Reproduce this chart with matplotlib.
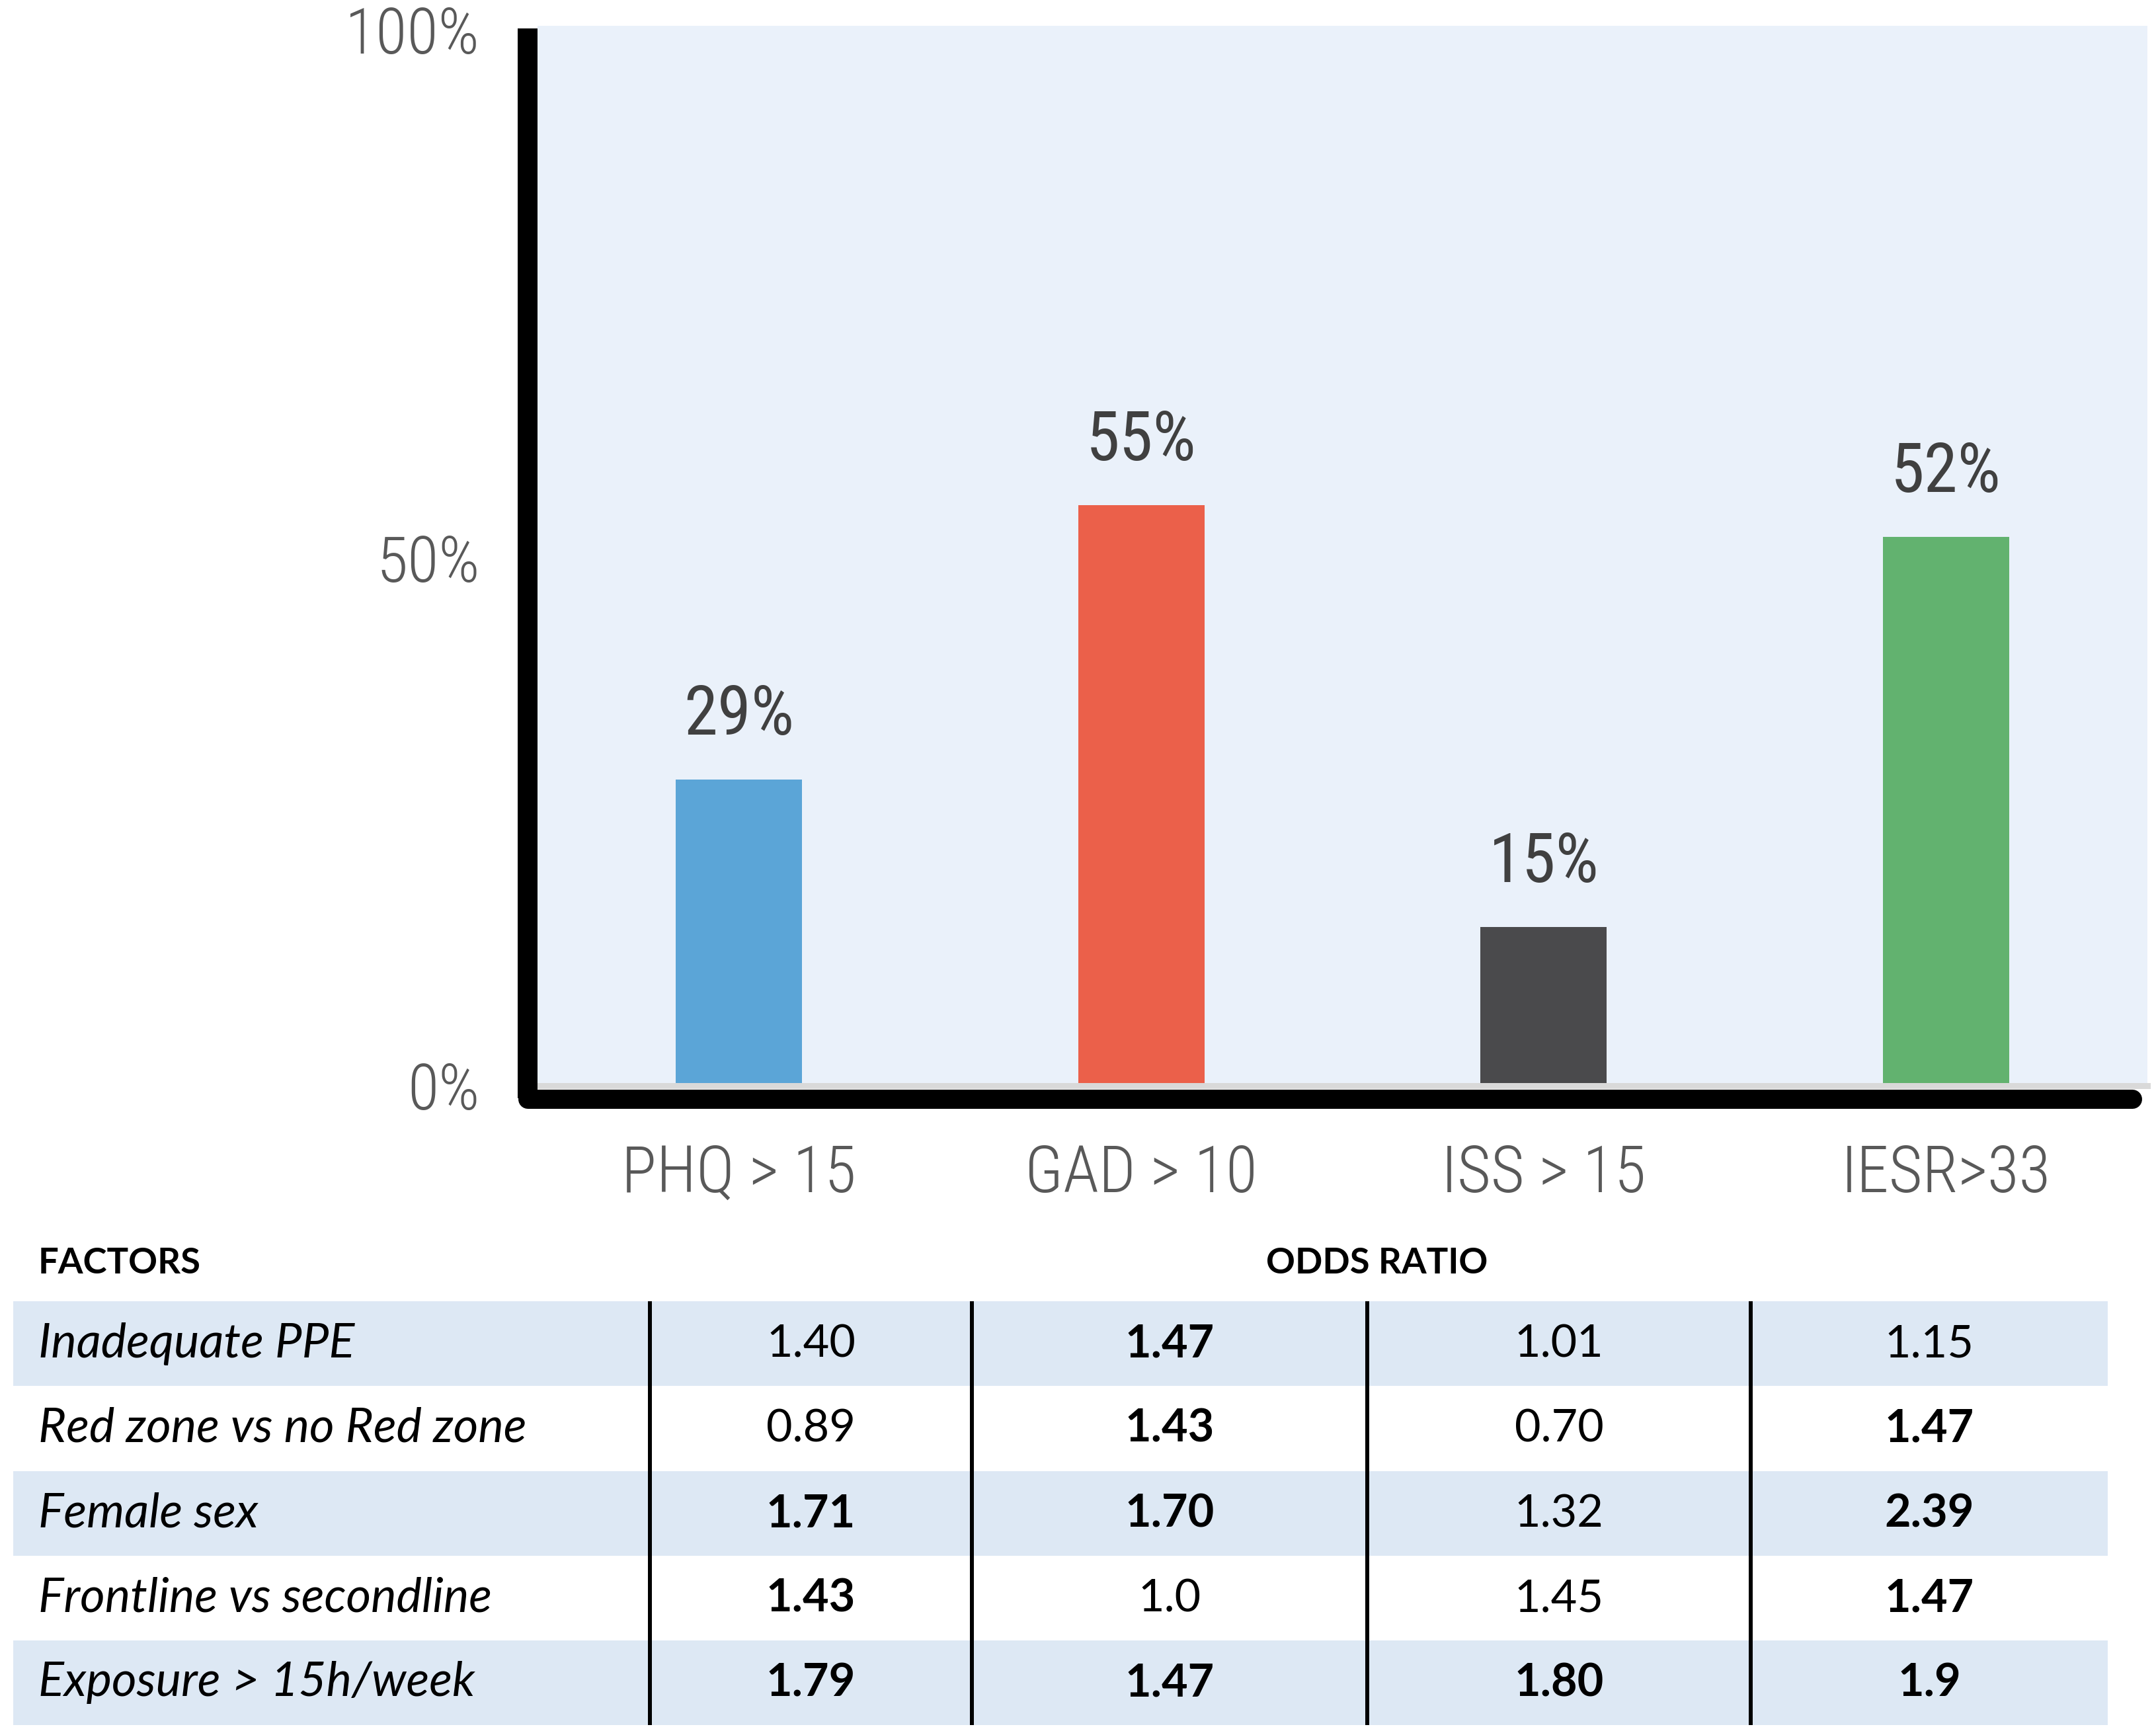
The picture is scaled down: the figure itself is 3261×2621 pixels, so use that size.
import matplotlib
matplotlib.use("Agg")
import matplotlib.pyplot as plt
from matplotlib import font_manager as fm
from matplotlib.lines import Line2D

# --- data ---
categories = ["PHQ > 15", "GAD > 10", "ISS > 15", "IESR>33"]
prevalence = [29, 55, 15, 52]
bar_colors = ["#5BA5D7", "#EB604A", "#4A4A4C", "#62B26F"]

yticks = [0, 50, 100]
ytick_labels = ["0%", "50%", "100%"]

factors = ["Inadequate PPE", "Red zone vs no Red zone", "Female sex",
           "Frontline vs secondline", "Exposure > 15h/week"]
odds = [["1.40", "1.47", "1.01", "1.15"],
        ["0.89", "1.43", "0.70", "1.47"],
        ["1.71", "1.70", "1.32", "2.39"],
        ["1.43", "1.0", "1.45", "1.47"],
        ["1.79", "1.47", "1.80", "1.9"]]
odds_bold = [[False, True, False, False],
             [False, True, False, True],
             [True, True, False, True],
             [True, False, False, True],
             [True, True, True, True]]


def narrow_font(weight=400):
    # the chart uses a DIN-like narrow face; take the closest narrow sans installed
    fonts = [f for f in fm.fontManager.ttflist if f.style == "normal"]
    prefs = [
        lambda f: f.name == "Roboto Condensed",
        lambda f: f.name == "Liberation Sans Narrow",
        lambda f: f.name.startswith("Noto Sans") and f.stretch == "condensed"
        and len(f.name) <= len("Noto Sans Condensed"),
        lambda f: f.name.startswith("Open Sans") and ("Cond" in f.name or f.stretch == "condensed"),
        lambda f: f.name.startswith("DejaVu Sans") and ("Cond" in f.name or f.stretch == "condensed"),
    ]
    for p in prefs:
        hits = [f for f in fonts if p(f)]
        if hits:
            best = min(hits, key=lambda f: abs(int(f.weight) - weight)
                       if str(f.weight).isdigit() else 999)
            return best.fname
    return None


# --- layout (pixels of the 3261 x 2621 canvas) ---
W, H = 3261, 2621
PX = 72 / 100  # points per pixel at dpi 100
table_font = ["Lato", "DejaVu Sans"]

nf_light = narrow_font(300)
nf_reg = narrow_font(400)


def chart_fp(size, fname):
    if fname:
        return fm.FontProperties(fname=fname, size=size)
    return fm.FontProperties(family="DejaVu Sans", size=size)


fig = plt.figure(figsize=(W / 100, H / 100), dpi=100)

ax_l, ax_r, ax_b, ax_t = 813, 3248, 1642, 39
ax = fig.add_axes([ax_l / W, 1 - ax_b / H, (ax_r - ax_l) / W, (ax_b - ax_t) / H])
ax.set_facecolor("#EAF1FA")

x = list(range(len(categories)))
ax.bar(x, prevalence, width=0.314, color=bar_colors, zorder=2)
ax.set_xlim(-0.5, 3.5)
ax.set_ylim(0, 100.38)
ax.axhline(0, color="#D9D9D9", lw=9 * PX, zorder=3, clip_on=False)

for xi, v in zip(x, prevalence):
    ax.annotate(f"{v}%", (xi, v), xytext=(0, 68 * PX), textcoords="offset points",
                ha="center", va="baseline", color="#404040",
                fontproperties=chart_fp(103 * PX, nf_reg))

for s in ax.spines.values():
    s.set_visible(False)

ax.set_yticks(yticks)
ax.set_yticklabels(ytick_labels, fontproperties=chart_fp(97 * PX, nf_light), color="#595959")
ax.set_xticks(x)
ax.set_xticklabels(categories, fontproperties=chart_fp(98 * PX, nf_light), color="#595959",
                   va="baseline")
ax.tick_params(axis="y", length=0, pad=87 * PX)
ax.tick_params(axis="x", length=0, pad=161 * PX)

# thick black frame on left and bottom
fig.add_artist(Line2D([798 / W, 798 / W], [1 - 43 / H, 1 - 1661 / H],
                      color="black", lw=30 * PX, solid_capstyle="butt"))
fig.add_artist(Line2D([798 / W, 3225 / W], [1 - 1661.5 / H, 1 - 1661.5 / H],
                      color="black", lw=29 * PX, solid_capstyle="round"))

# --- table ---
tb_top, tb_bot = 1840, 2609
axt = fig.add_axes([0, 1 - tb_bot / H, 1, (tb_bot - tb_top) / H])
axt.set_xlim(0, W)
axt.set_ylim(len(factors), -1)
axt.axis("off")

col_edges = [20, 983, 1470, 2068, 2648, 3188]
rows = list(range(len(factors)))
shaded = [r for r in rows if r % 2 == 0]
axt.barh([r + 0.5 for r in shaded], col_edges[-1] - col_edges[0], left=col_edges[0],
         height=1.0, color="#DDE8F4", zorder=1)
axt.vlines(col_edges[1:5], 0, len(factors), color="black", lw=6 * PX, zorder=2)

txt_size = 68.4 * PX
axt.text(58, -1 + 0.67, "FACTORS", family=table_font, fontsize=54.4 * PX,
         fontweight="bold", va="baseline", ha="left")
axt.text(2083, -1 + 0.67, "ODDS RATIO", family=table_font, fontsize=54.4 * PX,
         fontweight="bold", va="baseline", ha="center")

centers = [(col_edges[i] + col_edges[i + 1]) / 2 for i in range(1, 5)]
for r, name in enumerate(factors):
    axt.text(58, r + 0.66, name, family=table_font, fontsize=txt_size * 1.06,
             style="italic", va="baseline", ha="left", zorder=3)
    for c, val in enumerate(odds[r]):
        axt.text(centers[c], r + 0.66, val, family=table_font, fontsize=txt_size,
                 fontweight="bold" if odds_bold[r][c] else "normal",
                 va="baseline", ha="center", zorder=3)

fig.savefig("out.png", dpi=100, facecolor="white")
